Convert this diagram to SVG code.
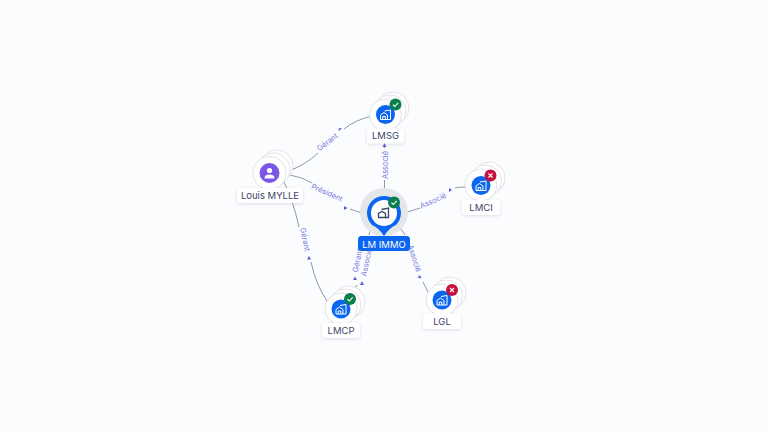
<svg xmlns="http://www.w3.org/2000/svg" width="768" height="432" viewBox="0 0 768 432">
<defs>
<style>
.halo{fill:#fff;stroke:#e2e3e8;stroke-width:1}
.disc{fill:#0a66f0}
.lab{fill:#fff}
.nm{font:400 9.500px Inter,"Liberation Sans",sans-serif;fill:#3d4468;text-anchor:middle}
.el{font:400 7.500px Inter,"Liberation Sans",sans-serif;fill:#7a78e0;text-anchor:middle}
.ln{fill:none;stroke:#777c90;stroke-width:.8}
.ar{fill:#5f5ce0}
.ico{fill:none;stroke:#fff;stroke-width:1}
.tick{fill:none;stroke:#fff;stroke-width:1.100}
</style>
<filter id="sh" x="-30%" y="-30%" width="160%" height="170%"><feDropShadow dx="0" dy="1" stdDeviation="1.600" flood-color="#7a8199" flood-opacity=".25"/></filter>
<g id="bld"><path class="ico" d="M-5 4.500V0L-1.500 -2.500L2 0V4.500ZM-2.800 4.500V1.500H-.2V4.500M-1 -4L5 -5V4.500H2"/></g>
<g id="ok"><circle r="6" fill="#0a7f4e"/><path class="tick" d="M-2.600 .1L-.7 2L2.700 -1.700"/></g>
<g id="no"><circle r="6" fill="#c8103f"/><path class="tick" d="M-2 -2L2 2M2 -2L-2 2"/></g>
</defs>
<rect width="768" height="432" fill="#fbfcfe"/>
<g id="connectors">
<path class="ln" d="M291 170Q305 165 318 153M344 129Q355 120 372 116"/>
<path class="ln" d="M290 175Q302 177 312 183M350 209Q358 213 368 213"/>
<path class="ln" d="M284 182Q293 200 299 227M311 262Q316 285 327 301"/>
<path class="ln" d="M384.500 130V148M384.500 180V197"/>
<path class="ln" d="M400 213Q410 212 420 208M465 187Q460 187 455 188"/>
<path class="ln" d="M372 225L369 235M357 285L353 292"/>
<path class="ln" d="M397 223L405 235M423 282L428 292"/>
<path class="ar" d="M342 128.500L338.500 131L339 128ZM347.500 208L344 206V210ZM309 256L307 259.500H311ZM384.500 143L386.500 147H382.500ZM452 190L449 188V192ZM355 276.500L353 280H357ZM362 281L360 285H364ZM420 275L417.500 277.500L421.500 278.500Z"/>
<g class="el">
<text transform="translate(329 144) rotate(-38)">Gérant</text>
<text transform="translate(326 195) rotate(24)">Président</text>
<text transform="translate(302.500 240) rotate(78)">Gérant</text>
<text transform="translate(387.500 165) rotate(-90)">Associé</text>
<text transform="translate(434 203) rotate(-24)">Associé</text>
<text transform="translate(360 261) rotate(-78)">Gérant</text>
<text transform="translate(369 263) rotate(-78)">Associé</text>
<text transform="translate(412 259) rotate(72)">Associé</text>
</g>
</g>
<g id="n-lmsg">
<circle class="halo" cx="393" cy="108" r="16"/><circle class="halo" cx="390" cy="111" r="16"/><circle class="halo" cx="385.500" cy="115" r="16"/>
<circle class="disc" cx="385.500" cy="114.500" r="9.500"/><use href="#bld" x="385.500" y="115"/><use href="#ok" x="395.500" y="104.500"/>
<rect class="lab" x="367" y="128.500" width="37" height="15" rx="3" filter="url(#sh)"/><text class="nm" x="385.500" y="139">LMSG</text>
</g>
<g id="n-louis">
<circle class="halo" cx="277" cy="166" r="16"/><circle class="halo" cx="273.500" cy="169.500" r="16.500"/><circle class="halo" cx="269.500" cy="173" r="16.500"/>
<circle cx="269.500" cy="173" r="10" fill="#7b57e8"/><circle cx="269.500" cy="170.500" r="2.600" fill="#fff"/><path d="M264.500 178.500Q264.500 174.500 269.500 174.500T274.500 178.500Z" fill="#fff"/>
<rect class="lab" x="237" y="188" width="66" height="15" rx="3" filter="url(#sh)"/><text class="nm" x="270" y="199">Louis MYLLE</text>
</g>
<g id="n-lmci">
<circle class="halo" cx="489" cy="178" r="16"/><circle class="halo" cx="485.500" cy="181" r="16"/><circle class="halo" cx="481" cy="185" r="16"/>
<circle class="disc" cx="481" cy="185.500" r="9.500"/><use href="#bld" x="481" y="186"/><use href="#no" x="490.500" y="175.500"/>
<rect class="lab" x="462" y="200" width="38" height="15" rx="3" filter="url(#sh)"/><text class="nm" x="481" y="211">LMCI</text>
</g>
<g id="n-lmcp">
<circle class="halo" cx="349" cy="302" r="16"/><circle class="halo" cx="345" cy="305" r="16"/><circle class="halo" cx="341" cy="309" r="16"/>
<circle class="disc" cx="341" cy="309" r="9.500"/><use href="#bld" x="341" y="309.500"/><use href="#ok" x="350" y="299"/>
<rect class="lab" x="322" y="323" width="38" height="15" rx="3" filter="url(#sh)"/><text class="nm" x="341" y="334">LMCP</text>
</g>
<g id="n-lgl">
<circle class="halo" cx="450" cy="293" r="16"/><circle class="halo" cx="446.500" cy="296" r="16"/><circle class="halo" cx="442" cy="300" r="16"/>
<circle class="disc" cx="442" cy="300" r="9.500"/><use href="#bld" x="442" y="300.500"/><use href="#no" x="452" y="290"/>
<rect class="lab" x="423" y="314" width="38" height="15" rx="3" filter="url(#sh)"/><text class="nm" x="442" y="325">LGL</text>
</g>
<g id="n-lmimmo">
<circle cx="384" cy="212" r="24" fill="#e5e6ea"/>
<path d="M384 236Q379 228 372 225A17 17 0 1 1 396 225Q389 228 384 236Z" fill="#0a66f0"/>
<circle cx="384" cy="213" r="13" fill="#fff"/>
<g transform="translate(383.500 213)" fill="none" stroke="#3d4468" stroke-width="1.300"><path d="M-5 4.500V.5L-1.500 -1.500L2 .5V4.500Z"/><path d="M-2 -3.500L5 -5V4.500H2"/></g>
<use href="#ok" x="394" y="202.500"/>
<rect x="358" y="236" width="52" height="15" rx="3.500" fill="#0a66f0"/>
<text x="384" y="247.500" style="font:400 9.500px Inter,'Liberation Sans',sans-serif;fill:#fff;text-anchor:middle">LM IMMO</text>
</g>
</svg>
